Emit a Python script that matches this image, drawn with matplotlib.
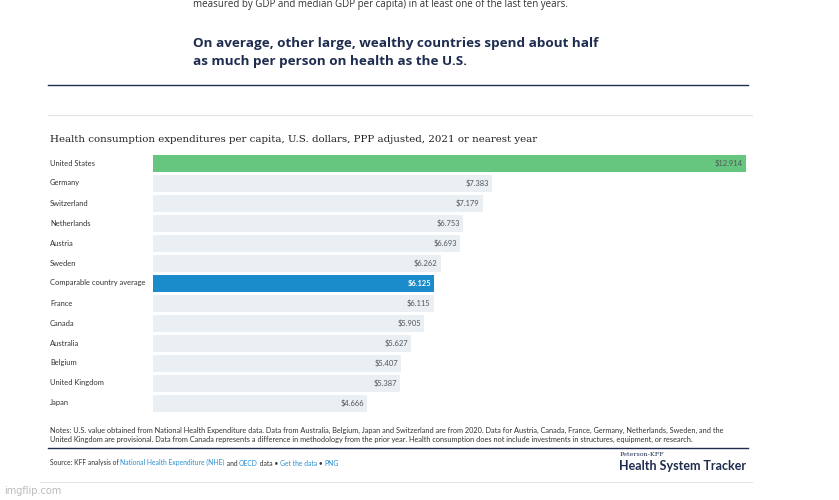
import matplotlib
matplotlib.use("Agg")
import matplotlib.pyplot as plt

countries = ["United States", "Germany", "Switzerland", "Netherlands", "Austria", "Sweden",
             "Comparable country average", "France", "Canada", "Australia", "Belgium",
             "United Kingdom", "Japan"]
values = [12914, 7383, 7179, 6753, 6693, 6262, 6125, 6115, 5905, 5627, 5407, 5387, 4666]

W, H = 839, 500
fig = plt.figure(figsize=(W / 100, H / 100), dpi=100)
fig.patch.set_facecolor("white")

NAVY = "#1e2c4f"
LINK = "#2a8fd0"

def fx(x):
    return x / W

def fy(y):
    return 1 - y / H

# background axes for annotations / lines
bg = fig.add_axes([0, 0, 1, 1])
bg.set_xlim(0, W)
bg.set_ylim(H, 0)
bg.axis("off")

bg.text(193, 4, "measured by GDP and median GDP per capita) in at least one of the last ten years.",
        fontsize=7.0, color="#333333", va="center", ha="left", family="Open Sans")
bg.text(193, 43, "On average, other large, wealthy countries spend about half",
        fontsize=9.7, color=NAVY, va="center", ha="left", family="Open Sans", fontweight="bold")
bg.text(193, 62, "as much per person on health as the U.S.",
        fontsize=9.7, color=NAVY, va="center", ha="left", family="Open Sans", fontweight="bold")
bg.plot([48, 748], [85, 85], color=NAVY, lw=1.0)
bg.plot([48, 752], [115, 115], color="#e3e3e3", lw=0.8)

bg.text(50, 140, "Health consumption expenditures per capita, U.S. dollars, PPP adjusted, 2021 or nearest year",
        fontsize=7.4, color="#222222", va="center", ha="left", family="DejaVu Serif")

# notes
bg.text(50, 430.5, "Notes: U.S. value obtained from National Health Expenditure data. Data from Australia, Belgium, Japan and Switzerland are from 2020. Data for Austria, Canada, France, Germany, Netherlands, Sweden, and the",
        fontsize=5.3, color="#333333", va="center", ha="left", family="Lato")
bg.text(50, 439, "United Kingdom are provisional. Data from Canada represents a difference in methodology from the prior year. Health consumption does not include investments in structures, equipment, or research.",
        fontsize=5.3, color="#333333", va="center", ha="left", family="Lato")
bg.plot([48, 748], [448, 448], color=NAVY, lw=1.0)

# source line with multicolored pieces
pieces = [("Source: KFF analysis of ", "#333333"), ("National Health Expenditure (NHE)", LINK),
          (" and ", "#333333"), ("OECD", LINK), (" data \u2022 ", "#333333"),
          ("Get the data", LINK), (" \u2022 ", "#333333"), ("PNG", LINK)]
prev = bg.text(50, 463, pieces[0][0], fontsize=4.9, color=pieces[0][1], va="center", ha="left", family="Lato")
for s, c in pieces[1:]:
    prev = bg.annotate(s, xy=(1, 0), xycoords=prev, va="bottom", ha="left",
                       fontsize=4.9, color=c, family="Lato")

bg.text(620, 455, "Peterson-KFF", fontsize=4.6, color=NAVY, va="center", ha="left", family="DejaVu Serif")
bg.text(619, 466, "Health System Tracker", fontsize=9.0, color=NAVY, va="center", ha="left",
        family="Lato", fontweight="bold")
bg.plot([40, 752], [482, 482], color="#e6e6e6", lw=0.8)
bg.text(4, 491, "imgflip.com", fontsize=7, color="#bbbbbb", va="center", ha="left", family="DejaVu Sans")

# bar chart axes
x0, x1 = 153, 746
ytop, ybot = 153, 413
ax = fig.add_axes([fx(x0), fy(ybot), fx(x1 - x0), (ybot - ytop) / H])
n = len(countries)
ypos = list(range(n))
colors = []
for c in countries:
    if c == "United States":
        colors.append("#66c680")
    elif c == "Comparable country average":
        colors.append("#1a8ccc")
    else:
        colors.append("#e9eff2")
ax.barh(ypos, values, height=0.85, color=colors, edgecolor="none")
ax.set_xlim(0, max(values))
ax.set_ylim(n - 0.5, -0.5)
ax.axis("off")

for i, (c, v) in enumerate(zip(countries, values)):
    lab = "$" + f"{v:,}".replace(",", ".")
    if c == "Comparable country average":
        ax.text(v - 70, i, lab, ha="right", va="center", fontsize=5.4, color="white",
                fontweight="bold", family="Lato")
    else:
        ax.text(v - 70, i, lab, ha="right", va="center", fontsize=5.4, color="#555555", family="Lato")
    bg.text(50, ytop + 10 + 20 * i, c, ha="left", va="center", fontsize=5.45, color="#333333", family="Lato")

fig.savefig("out.png", dpi=100, facecolor="white")
